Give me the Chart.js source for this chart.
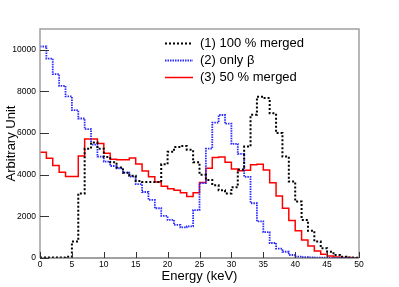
<!DOCTYPE html>
<html>
<head>
<meta charset="utf-8">
<script src="https://cdn.jsdelivr.net/npm/chart.js@4.4.1/dist/chart.umd.min.js"></script>
<style>
html, body { margin: 0; padding: 0; background: #fff; }
#wrap { width: 399px; height: 287px; }
</style>
</head>
<body>
<div id="wrap"><canvas id="grafico" width="399" height="287"></canvas></div>
<script>
// bin edges in keV (50 bins of 1 keV)
const binEdges = [0,1,2,3,4,5,6,7,8,9,10,11,12,13,14,15,16,17,18,19,20,21,22,23,24,25,
                  26,27,28,29,30,31,32,33,34,35,36,37,38,39,40,41,42,43,44,45,46,47,48,49,50];

// (1) 100 % merged
const merged100 = [20,20,20,30,60,790,3100,5250,5550,5250,4850,4600,4350,4100,3950,3700,3650,3650,3650,4500,
                   5100,5330,5380,5200,4600,4000,3750,3500,3250,3100,3400,4250,5350,6880,7750,7680,6950,6000,4870,3670,
                   2710,1830,1310,790,470,300,140,65,30,15];
// (2) only beta
const onlyBeta = [10160,9580,8830,8270,7760,7100,6700,6190,5450,4870,4630,4420,4310,4100,3910,3550,3170,2790,2390,2020,
                  1830,1590,1470,1520,2300,3600,5250,6500,6870,6450,5480,5000,3900,2630,1760,1240,720,450,300,145,
                  65,40,30,20,15,10,8,5,3,2];
// (3) 50 % merged
const merged50 = [5080,4790,4440,4120,3910,3910,4900,5720,5720,5500,5030,4740,4720,4720,4800,4520,4180,3900,3650,3450,
                  3330,3250,3130,2960,3130,3630,4310,4830,4850,4600,4280,4190,4220,4480,4500,4230,3620,2980,2390,1800,
                  1310,865,577,337,176,96,50,30,20,10];

const nomes = ['(1) 100 % merged', '(2) only \u03b2', '(3) 50 % merged'];
const xTicks = [0,5,10,15,20,25,30,35,40,45,50];
const yTicks = [0,2000,4000,6000,8000,10000];

const fonte = '"Liberation Sans", Arial, sans-serif';

// histogram -> points on the low edges, plus the closing upper edge
function paraDegraus(valores) {
    const pts = valores.map((v, i) => ({ x: binEdges[i], y: v }));
    pts.push({ x: binEdges[valores.length], y: valores[valores.length - 1] });
    return pts;
}

// moldura, ticks internos e legenda (estilo ROOT)
const molduraPlugin = {
    id: 'moldura',
    afterDraw(chart) {
        const { ctx, chartArea: a, scales } = chart;
        ctx.save();
        ctx.strokeStyle = '#a0a0a0';
        ctx.lineWidth = 1.5;
        ctx.beginPath();
        ctx.moveTo(a.left, a.bottom);
        ctx.lineTo(a.left, a.top);
        ctx.lineTo(a.right, a.top);
        ctx.lineTo(a.right, a.bottom);
        ctx.stroke();
        ctx.strokeStyle = '#444';
        ctx.lineWidth = 1.2;
        ctx.beginPath();
        ctx.moveTo(a.left, a.bottom);
        ctx.lineTo(a.right, a.bottom);
        ctx.stroke();

        ctx.strokeStyle = '#333';
        ctx.lineWidth = 1;
        ctx.beginPath();
        yTicks.forEach(v => {
            const py = Math.round(scales.y.getPixelForValue(v)) + 0.5;
            ctx.moveTo(a.left, py);
            ctx.lineTo(a.left + 9, py);
        });
        xTicks.forEach(v => {
            const px = Math.round(scales.x.getPixelForValue(v)) + 0.5;
            ctx.moveTo(px, a.bottom);
            ctx.lineTo(px, a.bottom - 6);
        });
        ctx.stroke();

        // legenda
        const linhasY = [43, 60, 77];
        chart.data.datasets.forEach((ds, i) => {
            const y = linhasY[i];
            ctx.strokeStyle = ds.borderColor;
            ctx.lineWidth = ds.borderWidth;
            ctx.setLineDash(ds.borderDash || []);
            ctx.beginPath();
            ctx.moveTo(165, y + 0.5);
            ctx.lineTo(193, y + 0.5);
            ctx.stroke();
            ctx.setLineDash([]);
            ctx.fillStyle = '#000';
            ctx.font = '13px ' + fonte;
            ctx.textBaseline = 'middle';
            ctx.textAlign = 'left';
            ctx.fillText(ds.label, 200, y);
        });
        ctx.restore();
    }
};

const ctx = document.getElementById('grafico').getContext('2d');
new Chart(ctx, {
    type: 'line',
    data: {
        datasets: [
            { label: nomes[0], data: paraDegraus(merged100), borderColor: '#000000', borderWidth: 2, borderDash: [2, 2] },
            { label: nomes[1], data: paraDegraus(onlyBeta), borderColor: '#2a2aff', borderWidth: 1.8, borderDash: [1.5, 1] },
            { label: nomes[2], data: paraDegraus(merged50), borderColor: '#ff0000', borderWidth: 1.5 }
        ].map(ds => Object.assign(ds, { stepped: 'before', pointRadius: 0, fill: false, tension: 0 }))
    },
    options: {
        responsive: false,
        animation: false,
        devicePixelRatio: 1,
        layout: { padding: { left: 0, right: 40, top: 29, bottom: 0 } },
        plugins: { legend: { display: false }, tooltip: { enabled: false } },
        scales: {
            x: {
                type: 'linear', min: 0, max: 50,
                afterBuildTicks: s => { s.ticks = xTicks.map(v => ({ value: v })); },
                afterFit: s => { s.height = 29; },
                grid: { display: false, drawTicks: false },
                border: { display: false },
                ticks: { color: '#000', font: { family: fonte, size: 8.5 }, padding: 2, maxRotation: 0, autoSkip: false,
                         callback: v => String(v) },
                title: { display: true, text: 'Energy (keV)', color: '#000', font: { family: fonte, size: 13 }, padding: { top: 0, bottom: 2.5 } }
            },
            y: {
                min: 0, max: 11000,
                afterBuildTicks: s => { s.ticks = yTicks.map(v => ({ value: v })); },
                afterFit: s => { s.width = 40; },
                grid: { display: false, drawTicks: false },
                border: { display: false },
                ticks: { color: '#000', font: { family: fonte, size: 8.5 }, padding: 4, callback: v => String(v) },
                title: { display: true, text: 'Arbitrary Unit', color: '#000', font: { family: fonte, size: 13 }, padding: { top: 4, bottom: 0 } }
            }
        }
    },
    plugins: [molduraPlugin]
});
</script>
</body>
</html>
